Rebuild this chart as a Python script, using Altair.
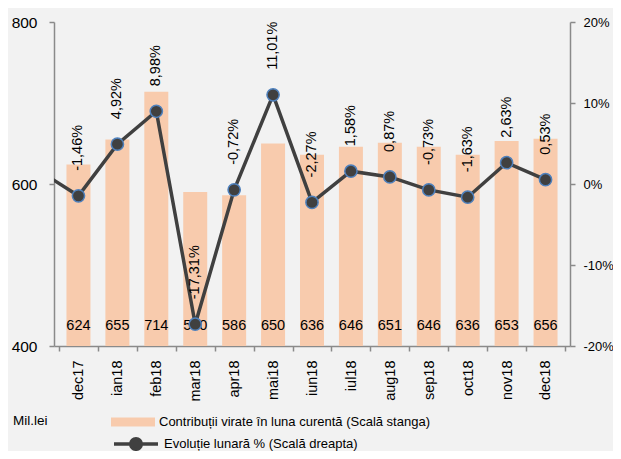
import altair as alt
import pandas as pd

# ---- data ----
months = ["dec17", "ian18", "feb18", "mar18", "apr18", "mai18", "iun18",
          "iul18", "aug18", "sep18", "oct18", "nov18", "dec18"]
values = [624, 655, 714, 590, 586, 650, 636, 646, 651, 646, 636, 653, 656]
changes = [-1.46, 4.92, 8.98, -17.31, -0.72, 11.01, -2.27, 1.58, 0.87,
           -0.73, -1.63, 2.63, 0.53]
prev_month = "nov17"
prev_change = 1.6  # estimated from the clipped line segment at the left edge

bar_name = "Contribuții virate în luna curentă (Scală stanga)"
line_name = "Evoluție lunară % (Scală dreapta)"
unit_label = "Mil.lei"

FONT = "Liberation Sans, Arial, sans-serif"
BAR_COLOR = "#f8cbad"
LINE_COLOR = "#404040"
AXIS_COLOR = "#8a8a8a"

idx = list(range(len(months)))
df = pd.DataFrame({
    "i": idx,
    "month": months,
    "value": values,
    "change": changes,
    "pct_label": [f"{c:.2f}".replace(".", ",") + "%" for c in changes],
    "s1": bar_name,
})
line_df = pd.DataFrame({
    "i": [-1] + idx,
    "change": [prev_change] + changes,
    "s2": line_name,
})

W, H = 516, 324
band = W / len(months)

months_js = "[" + ",".join(f"'{m}'" for m in months) + "]"
x_enc = alt.X(
    "i:Q",
    scale=alt.Scale(domain=[-0.5, len(months) - 0.5], nice=False, zero=False),
    axis=alt.Axis(
        values=[k - 0.5 for k in range(len(months) + 1)],
        labelExpr=f"{months_js}[datum.value + 0.5] || ''",
        labelOffset=band / 2,
        labelAngle=270,
        labelAlign="right",
        labelBaseline="middle",
        labelFlush=False,
        labelOverlap=False,
        labelFontSize=14.5,
        tickSize=5,
        labelPadding=9,
        title=None,
    ),
)

y_left = alt.Y(
    "value:Q",
    scale=alt.Scale(domain=[400, 800], nice=False, zero=False),
    axis=alt.Axis(values=[400, 600, 800], title=None, tickSize=5,
                  labelPadding=12, labelFontSize=15.5, orient="left"),
)

bars = alt.Chart(df).mark_bar(size=24).encode(
    x=x_enc,
    y=y_left,
    y2=alt.datum(400),
    fill=alt.Fill(
        "s1:N",
        scale=alt.Scale(domain=[bar_name], range=[BAR_COLOR]),
        legend=alt.Legend(
            title=unit_label,
            titleOrient="left",
            titleAnchor="middle",
            titleBaseline="line-top",
            titleLineHeight=12,
            titleFont=FONT,
            titleFontSize=13.5,
            titleFontWeight="normal",
            titleColor="#000000",
            titlePadding=63,
            orient="none",
            legendX=-41,
            legendY=378,
            symbolType="M-1,-0.21H1V0.21H-1Z",
            symbolSize=1936,
            symbolStrokeWidth=0,
            labelFont=FONT,
            labelFontSize=13,
            labelColor="#000000",
            labelOffset=4,
            labelLimit=0,
        ),
    ),
)

bar_text = alt.Chart(df).mark_text(
    dy=-20, fontSize=14.5, font=FONT, color="#000000", baseline="middle"
).encode(
    x=x_enc,
    y=alt.datum(400),
    text="value:Q",
)

left = alt.layer(bars, bar_text)

y_right = alt.Y(
    "change:Q",
    scale=alt.Scale(domain=[-20, 20], nice=False, zero=False),
    axis=alt.Axis(orient="right", values=[-20, -10, 0, 10, 20],
                  labelExpr="datum.value + '%'", title=None, tickSize=5,
                  labelPadding=8, labelFontSize=13),
)

line = alt.Chart(line_df).mark_line(strokeWidth=3.5, clip=True).encode(
    x=x_enc,
    y=y_right,
    stroke=alt.Stroke(
        "s2:N",
        scale=alt.Scale(domain=[line_name], range=[LINE_COLOR]),
        legend=alt.Legend(
            title=None,
            orient="none",
            legendX=58,
            legendY=398,
            symbolType="M-1,0H1M0.24,0A0.24,0.24,0,1,1,-0.24,0A0.24,0.24,0,1,1,0.24,0Z",
            symbolSize=1936,
            symbolStrokeWidth=3.5,
            symbolFillColor=LINE_COLOR,
            labelFont=FONT,
            labelFontSize=13,
            labelColor="#000000",
            labelOffset=4,
            labelLimit=0,
        ),
    ),
)

points = alt.Chart(df).mark_circle(
    size=150, color=LINE_COLOR, opacity=1, stroke="#4f81bd", strokeWidth=1.5
).encode(x=x_enc, y="change:Q")

pct_text = alt.Chart(df).mark_text(
    angle=270, align="left", baseline="middle", dx=25, fontSize=14.5,
    font=FONT, color="#000000"
).encode(x=x_enc, y="change:Q", text="pct_label:N")

right = alt.layer(line, points, pct_text)

chart = alt.layer(left, right).resolve_scale(
    y="independent", fill="independent", stroke="independent"
).properties(
    width=W,
    height=H,
    background="#f2f2f2",
    padding={"left": 46, "top": 14, "right": 43, "bottom": 105},
    autosize=alt.AutoSizeParams(type="none"),
).configure_view(
    stroke=None
).configure_axis(
    labelFont=FONT,
    labelFontSize=15,
    labelColor="#000000",
    labelOverlap=False,
    domainColor=AXIS_COLOR,
    tickColor=AXIS_COLOR,
    domainWidth=1.5,
    tickWidth=1.5,
    grid=False,
)

chart.save("out.html", embed_options={"renderer": "svg", "actions": False})
